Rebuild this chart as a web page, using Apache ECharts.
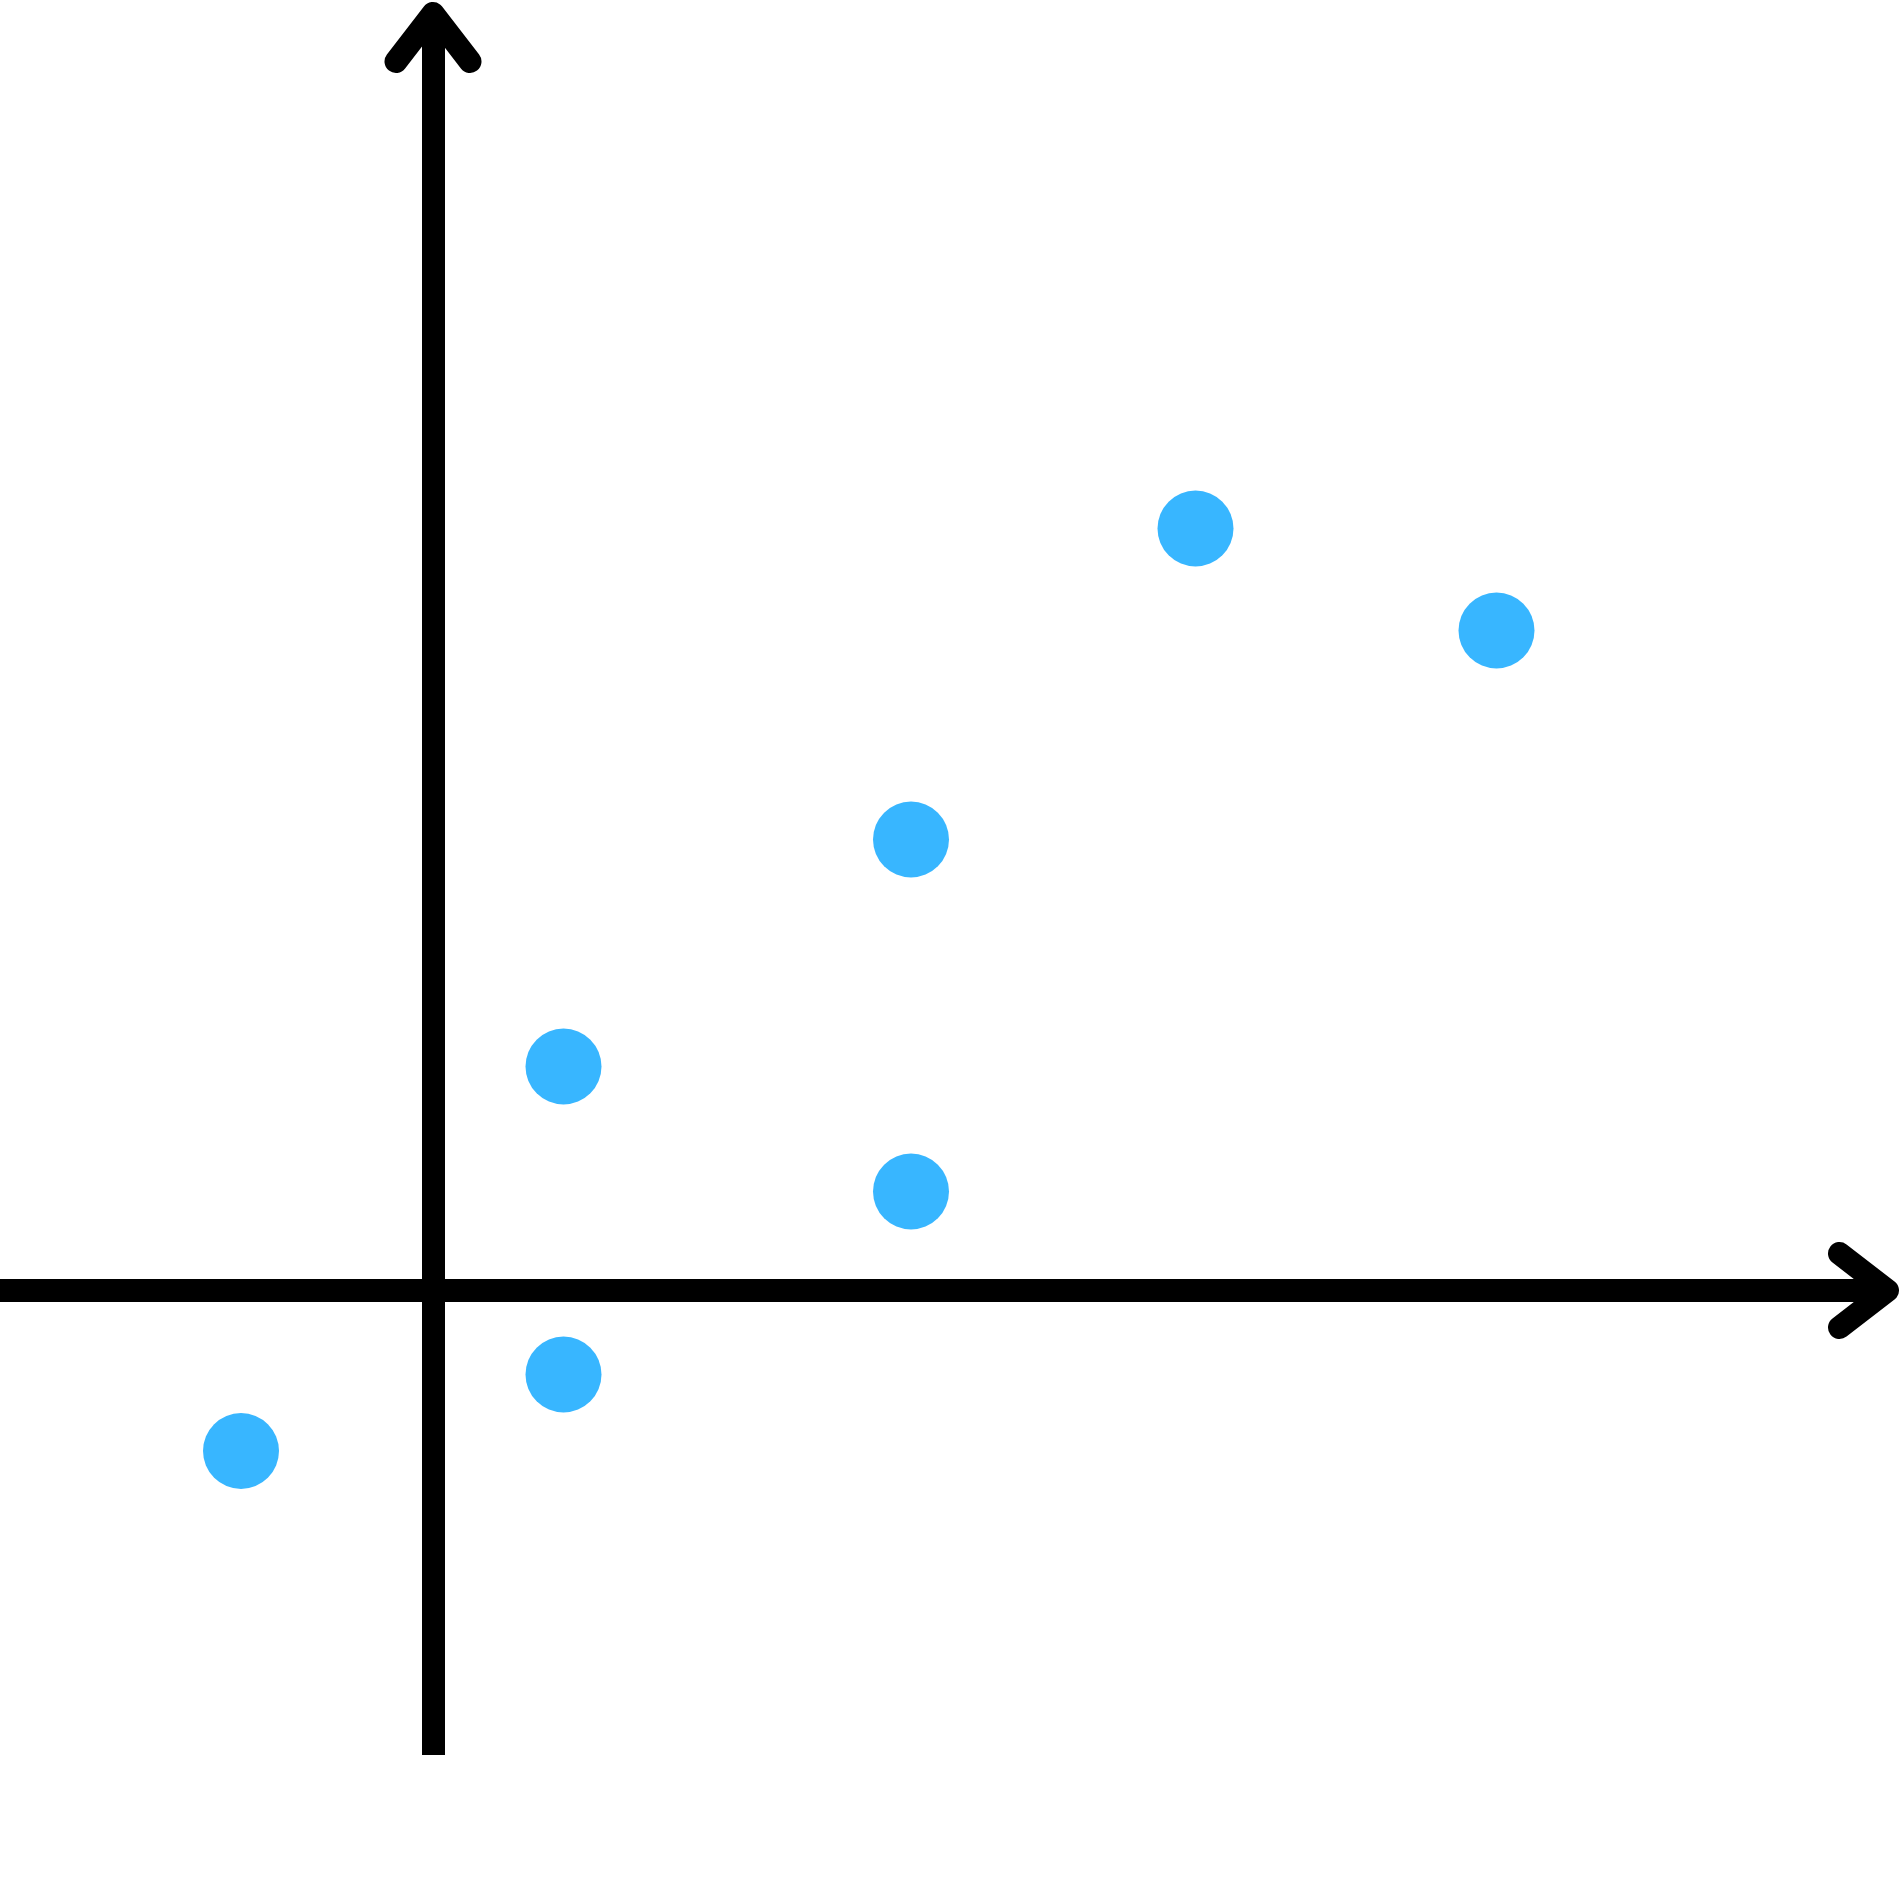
<!DOCTYPE html>
<html>
<head>
<meta charset="utf-8">
<script src="https://cdn.jsdelivr.net/npm/echarts@6/dist/echarts.min.js"></script>
<style>html,body{margin:0;padding:0;background:#fff}#c{width:1900px;height:1900px}</style>
</head>
<body>
<div id="c"></div>
<script>
// Data (1 unit ≈ 100 px)
const xValues = [-1.92, 1.305, 1.305, 4.78, 4.78, 7.625, 10.635];
const yValues = [-1.605, -0.84, 2.24, 0.99, 4.51, 7.62, 6.60];
const xRange = [-4.33, 14.545];
const yRange = [-4.645, 12.77];

const points = xValues.map((x, i) => [x, yValues[i]]);

// open chevron arrow head (filled outline of a thick round-capped chevron), pointing up
const chevron = 'path://M-9.108,-7.021 A11.5,11.5 0 0 1 9.108,-7.021 L46.108,40.979 A11.5,11.5 0 0 1 27.892,55.021 L0,18.837 L-27.892,55.021 A11.5,11.5 0 0 1 -46.108,40.979 Z';

const axisLine = {
  show: true,
  onZero: true,
  symbol: ['none', chevron],
  symbolSize: [97, 71],
  symbolOffset: [0, -24],
  lineStyle: { color: '#000', width: 23, cap: 'butt' }
};

const chart = echarts.init(document.getElementById('c'));
chart.setOption({
  animation: false,
  backgroundColor: '#fff',
  grid: { left: 0, right: 12.5, top: 13.5, bottom: 145 },
  xAxis: {
    type: 'value', min: xRange[0], max: xRange[1],
    axisLine: axisLine,
    axisTick: { show: false }, axisLabel: { show: false }, splitLine: { show: false }
  },
  yAxis: {
    type: 'value', min: yRange[0], max: yRange[1],
    axisLine: axisLine,
    axisTick: { show: false }, axisLabel: { show: false }, splitLine: { show: false }
  },
  series: [{
    type: 'scatter',
    data: points,
    symbol: 'circle',
    symbolSize: 76,
    itemStyle: { color: '#38b6ff', opacity: 1 }
  }]
});
</script>
</body>
</html>
